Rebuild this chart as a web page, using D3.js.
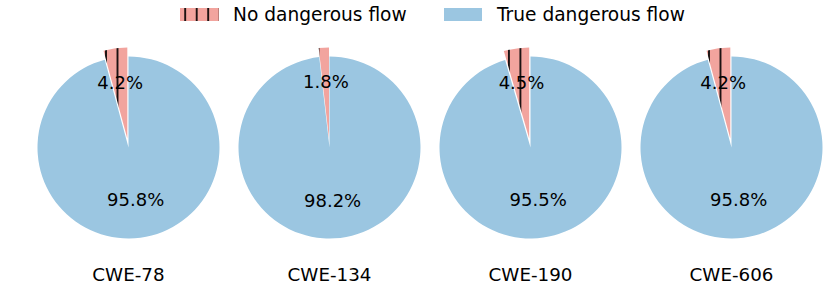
<!DOCTYPE html>
<html><head><meta charset="utf-8">
<script src="https://cdn.jsdelivr.net/npm/d3@7"></script>
<style>body{margin:0;background:#fff}svg{display:block}text{font-family:"DejaVu Sans",sans-serif}</style>
</head><body><svg id="c" width="830" height="288"></svg>
<script>
const categories = ["CWE-78", "CWE-134", "CWE-190", "CWE-606"];
const seriesNames = ["No dangerous flow", "True dangerous flow"];
const noFlow = [4.2, 1.8, 4.5, 4.2];
const trueFlow = [95.8, 98.2, 95.5, 95.8];
const colors = ["#f2a49e", "#9bc6e1"];

const svg = d3.select("#c");
const W = 830, R = 91, CY = 147.5, spacing = 11.5;
const cx = d3.scalePoint().domain(categories).range([128.5, 731.5]);
const hatchTargets = [118.7, 319, 521.7, 721.7];
const defs = svg.append("defs");
function makePattern(id, offset){
  const p = defs.append("pattern").attr("id", id).attr("patternUnits", "userSpaceOnUse")
    .attr("width", spacing).attr("height", 10).attr("x", offset - spacing/2).attr("y", 0);
  p.append("rect").attr("width", spacing).attr("height", 10).attr("fill", colors[0]);
  p.append("line").attr("x1", spacing/2).attr("x2", spacing/2).attr("y1", -1).attr("y2", 11)
    .attr("stroke", "#000").attr("stroke-width", 1.7);
}
const pie = d3.pie().sort(null).value(d => d).startAngle(0).endAngle(-2 * Math.PI);
const arc = d3.arc().innerRadius(0).outerRadius(R);
const explode = [0.1, 0];

categories.forEach((cat, i) => {
  const x0 = cx(cat);
  const pid = "hatch" + i;
  makePattern(pid, hatchTargets[i] - x0);
  const g = svg.append("g").attr("transform", `translate(${x0},${CY})`);
  const arcs = pie([noFlow[i], trueFlow[i]]);
  const mids = arcs.map(a => (a.startAngle + a.endAngle) / 2);
  arcs.forEach((a, j) => {
    const m = mids[j], e = explode[j] * R;
    g.append("path").attr("d", arc(a))
      .attr("transform", `translate(${Math.sin(m) * e},${-Math.cos(m) * e})`)
      .attr("fill", j === 0 ? `url(#${pid})` : colors[1]);
  });
  arcs.forEach((a, j) => {
    const m = mids[j], d = (explode[j] + 0.6) * R;
    g.append("text").attr("x", Math.sin(m) * d).attr("y", -Math.cos(m) * d + 4.5)
      .attr("text-anchor", "middle").attr("font-size", 18).attr("fill", "#000")
      .text(a.data.toFixed(1) + "%");
  });
  svg.append("text").attr("x", x0).attr("y", 281).attr("text-anchor", "middle")
    .attr("font-size", 18.3).attr("fill", "#000").text(cat);
});

// legend
makePattern("hatchL", 0);
const leg = [{x: 180, tx: 233}, {x: 444, tx: 497}];
seriesNames.forEach((s, j) => {
  if (j === 0) {
    const lg = svg.append("g").attr("transform", `translate(${leg[j].x},0)`);
    defs.select("#hatchL").attr("x", 196.7 - leg[j].x - spacing/2);
    lg.append("rect").attr("x", 0).attr("y", 8).attr("width", 39).attr("height", 13).attr("fill", "url(#hatchL)");
  } else {
    svg.append("rect").attr("x", leg[j].x).attr("y", 8).attr("width", 38).attr("height", 13).attr("fill", colors[1]);
  }
  svg.append("text").attr("x", leg[j].tx).attr("y", 20.5).attr("font-size", 18.6).attr("fill", "#000").text(s);
});
</script></body></html>
